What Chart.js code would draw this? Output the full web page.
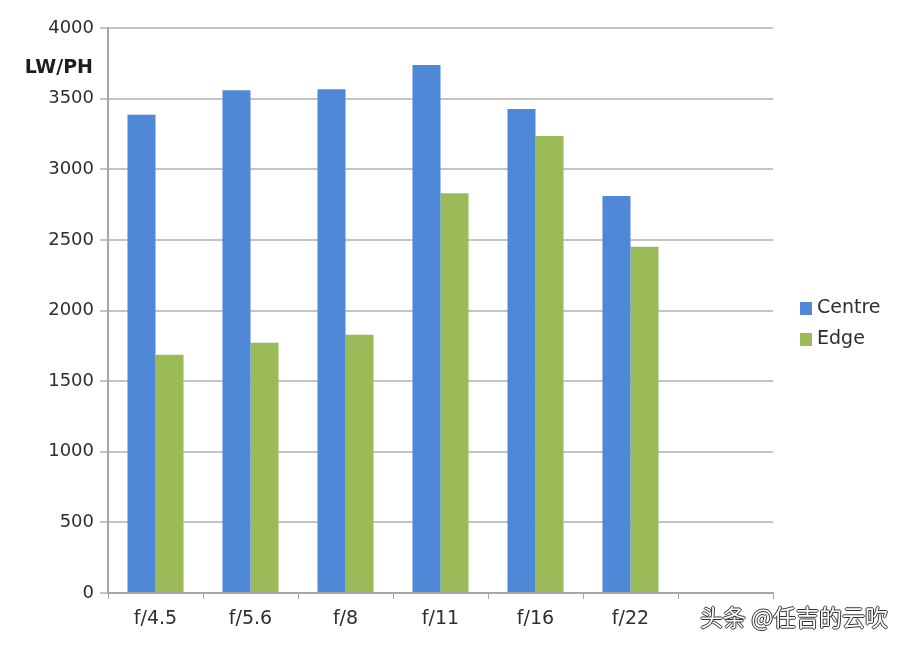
<!DOCTYPE html>
<html>
<head>
<meta charset="utf-8">
<script src="https://cdn.jsdelivr.net/npm/chart.js@4"></script>
<style>
    html, body { margin: 0; padding: 0; background: #fff; }
    #wrap { position: relative; width: 911px; height: 647px; }
    #watermark {
        position: absolute; left: 700px; top: 599px;
        font-family: "Noto Sans CJK SC", sans-serif; font-size: 23px;
        color: #fff; white-space: nowrap;
        text-shadow: 1px 0 #333, -1px 0 #333, 0 1px #333, 0 -1px #333;
    }
</style>
</head>
<body>
<div id="wrap">
    <canvas id="lwphChart" width="911" height="647"></canvas>
    <div id="watermark">头条 @任吉的云吹</div>
</div>
<script>
const apertures = ['f/4.5', 'f/5.6', 'f/8', 'f/11', 'f/16', 'f/22', ''];
const centreValues = [3385, 3560, 3566, 3738, 3427, 2811, null];
const edgeValues = [1686, 1772, 1828, 2830, 3236, 2452, null];
const yTicks = [0, 500, 1000, 1500, 2000, 2500, 3000, 3500, 4000];

const textColor = '#2e2e2e';
const gridColor = '#c4c4c4';
const fontFamily = '"DejaVu Sans", Verdana, sans-serif';

// y axis title sits sideways between the 4000 and 3500 labels
const axisTitle = {
    id: 'axisTitle',
    afterDraw(chart) {
        const ctx = chart.ctx;
        const y = chart.scales.y;
        ctx.save();
        ctx.font = 'bold 19px ' + fontFamily;
        ctx.fillStyle = '#1e1e1e';
        ctx.textAlign = 'right';
        ctx.textBaseline = 'middle';
        ctx.fillText('LW/PH', 93, (y.getPixelForValue(4000) + y.getPixelForValue(3500)) / 2 + 5);
        ctx.restore();
    }
};

// legend drawn to the right of the plot, like the spreadsheet one
const sideLegend = {
    id: 'sideLegend',
    afterDraw(chart) {
        const ctx = chart.ctx;
        ctx.save();
        ctx.font = '19px ' + fontFamily;
        ctx.textAlign = 'left';
        ctx.textBaseline = 'middle';
        chart.data.datasets.forEach((ds, i) => {
            const cy = 308 + i * 31;
            ctx.fillStyle = ds.backgroundColor;
            ctx.fillRect(800, cy - 6, 12, 13);
            ctx.fillStyle = textColor;
            ctx.fillText(ds.label, 817, cy);
        });
        ctx.restore();
    }
};

new Chart(document.getElementById('lwphChart').getContext('2d'), {
    type: 'bar',
    data: {
        labels: apertures,
        datasets: [{
            label: 'Centre',
            data: centreValues,
            backgroundColor: '#4f88d6',
            borderWidth: 0
        }, {
            label: 'Edge',
            data: edgeValues,
            backgroundColor: '#9bbb59',
            borderWidth: 0
        }]
    },
    options: {
        responsive: false,
        animation: false,
        categoryPercentage: 0.59,
        barPercentage: 1,
        layout: { padding: { top: 28, left: 0, right: 138, bottom: 0 } },
        plugins: {
            legend: { display: false },
            tooltip: { enabled: false }
        },
        scales: {
            x: {
                afterFit(scale) { scale.height = 54; },
                border: { color: '#a6a6a6', width: 2 },
                grid: { drawOnChartArea: false, drawTicks: true, tickLength: 6, color: '#a6a6a6', offset: true },
                ticks: {
                    color: textColor,
                    padding: 9,
                    font: { family: fontFamily, size: 19 }
                }
            },
            y: {
                min: 0,
                max: 4000,
                afterFit(scale) { scale.width = 108; },
                afterBuildTicks(scale) { scale.ticks = yTicks.map(v => ({ value: v })); },
                border: { color: '#a6a6a6', width: 2 },
                grid: { color: gridColor, lineWidth: 2, tickLength: 8 },
                ticks: {
                    color: textColor,
                    padding: 6,
                    font: { family: fontFamily, size: 18 },
                    callback: v => String(v)
                }
            }
        }
    },
    plugins: [axisTitle, sideLegend]
});
</script>
</body>
</html>
